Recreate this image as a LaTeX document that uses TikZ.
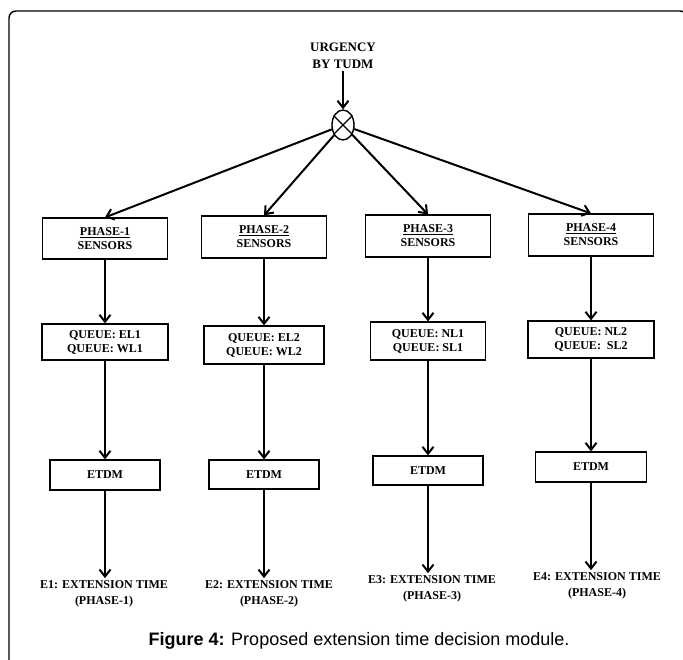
\documentclass[tikz,border=0pt]{standalone}
\usepackage{fontspec}
\setmainfont{Liberation Serif}
\newfontfamily\capfont{Liberation Sans}
\usetikzlibrary{arrows.meta, shapes.geometric}

\begin{document}
\begin{tikzpicture}[x=1pt, y=-1pt, line width=1.2pt,
        box/.style={draw, line width=1.2pt, align=center, inner sep=0pt,
            font=\bfseries\fontsize{12}{14}\selectfont},
        arr/.style={-{Straight Barb[length=7pt, width=11pt]}, line width=2pt},
        lbl/.style={align=center, inner sep=2pt,
            font=\bfseries\fontsize{12}{16}\selectfont}]
        \useasboundingbox (0,0) rectangle (683,659);
        % 外框
        \draw[rounded corners=7pt, line width=1.4pt] (9,670) -- (9,11) -- (687,11) -- (687,670);

        % 顶部输入与汇合点
        \node[lbl, font=\bfseries\fontsize{13}{17}\selectfont] (urg) at (343,56) {URGENCY\\BY TUDM};
        \node[draw, ellipse, line width=1.4pt, minimum width=22pt, minimum height=30pt, inner sep=0pt] (mix) at (343,125) {};
        \draw[line width=1.4pt] (mix.45) -- (mix.225) (mix.135) -- (mix.315);
        \draw[arr] (urg) -- (mix);

        % 四个相位
        \node[box, minimum width=125pt, minimum height=41pt] (p1) at (105,238.5) {\underline{PHASE-1}\\SENSORS};
        \node[box, minimum width=125pt, minimum height=42pt] (p2) at (264,237) {\underline{PHASE-2}\\SENSORS};
        \node[box, minimum width=125pt, minimum height=42pt] (p3) at (428,236) {\underline{PHASE-3}\\SENSORS};
        \node[box, minimum width=125pt, minimum height=42pt] (p4) at (591,235) {\underline{PHASE-4}\\SENSORS};

        \node[box, minimum width=126pt, minimum height=36pt] (q1) at (105,342) {QUEUE: EL1\\QUEUE: WL1};
        \node[box, minimum width=120pt, minimum height=38pt] (q2) at (264,345) {QUEUE: EL2\\QUEUE: WL2};
        \node[box, minimum width=115pt, minimum height=38pt] (q3) at (428,341) {QUEUE: NL1\\QUEUE: SL1};
        \node[box, minimum width=126pt, minimum height=37pt] (q4) at (591,339.5) {QUEUE: NL2\\QUEUE:\ \ SL2};

        \node[box, minimum width=110pt, minimum height=30pt] (e1) at (105,475) {ETDM};
        \node[box, minimum width=110pt, minimum height=29pt] (e2) at (264,474.5) {ETDM};
        \node[box, minimum width=110pt, minimum height=29pt] (e3) at (428,470.5) {ETDM};
        \node[box, minimum width=111pt, minimum height=30pt] (e4) at (591,467) {ETDM};

        % 输出
        \node[lbl] (t1) at (104,594) {E1: EXTENSION TIME\\(PHASE-1)};
        \node[lbl] (t2) at (269,594) {E2: EXTENSION TIME\\(PHASE-2)};
        \node[lbl] (t3) at (432,589) {E3: EXTENSION TIME\\(PHASE-3)};
        \node[lbl] (t4) at (597,586) {E4: EXTENSION TIME\\(PHASE-4)};

        % 连线
        \foreach \i in {1,...,4} {
            \draw[arr] (mix) -- (p\i.north);
            \draw[arr] (p\i) -- (q\i);
            \draw[arr] (q\i) -- (e\i);
            \draw[arr] (e\i) -- (e\i |- t\i.north);
        }

        \node[font=\capfont\fontsize{18}{20}\selectfont] (cap) at (359,641) {\textbf{Figure 4:} Proposed extension time decision module.};
    \end{tikzpicture}
\end{document}
